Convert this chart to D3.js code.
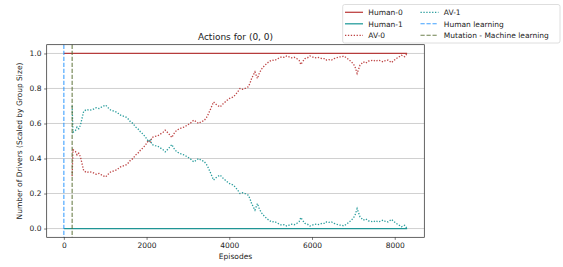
<!DOCTYPE html>
<html>
<head>
<meta charset="utf-8">
<script src="https://cdn.jsdelivr.net/npm/d3@7"></script>
<style>
  body { margin: 0; background: #fff; }
  text { font-family: "DejaVu Sans", sans-serif; fill: #222; }
</style>
</head>
<body>
<svg id="chart" width="563" height="267"></svg>
<script>
// human groups are flat for the whole run
const humanEpisodes = [0, 8300]
const human0 = [1, 1]
const human1 = [0, 0]

// AV groups start when mutation kicks in
const avEpisodes = [200, 220, 280, 320, 360, 400, 440, 480, 550, 620, 700, 780, 850, 920, 1010, 1070, 1130, 1210, 1290, 1350,
  1410, 1470, 1530, 1610, 1670, 1730, 1790, 1850, 1910, 1970, 2010, 2050, 2090, 2130, 2210, 2270, 2330, 2400, 2450, 2530,
  2610, 2670, 2730, 2800, 2860, 2920, 2980, 3050, 3140, 3200, 3260, 3320, 3380, 3440, 3500, 3560, 3620, 3700, 3780, 3840,
  3900, 3960, 4020, 4080, 4140, 4200, 4260, 4320, 4380, 4460, 4500, 4540, 4620, 4680, 4730, 4790, 4850, 4910, 4970, 5030,
  5090, 5150, 5210, 5270, 5330, 5390, 5450, 5510, 5570, 5630, 5690, 5730, 5780, 5830, 5890, 5950, 6010, 6070, 6130, 6190,
  6250, 6310, 6350, 6410, 6470, 6530, 6590, 6650, 6710, 6770, 6830, 6890, 6950, 7000, 7040, 7090, 7160, 7240, 7300, 7360,
  7420, 7480, 7540, 7600, 7660, 7720, 7780, 7840, 7920, 7980, 8040, 8100, 8160, 8240, 8300]

const av0 = [0.30, 0.45, 0.44, 0.42, 0.43, 0.41, 0.37, 0.33, 0.32, 0.325, 0.32, 0.31, 0.315, 0.305, 0.295, 0.31, 0.323, 0.33, 0.337, 0.35,
  0.356, 0.36, 0.367, 0.39, 0.40, 0.419, 0.43, 0.447, 0.46, 0.476, 0.49, 0.505, 0.49, 0.52, 0.527, 0.53, 0.539, 0.55, 0.562, 0.543,
  0.52, 0.545, 0.562, 0.57, 0.577, 0.58, 0.59, 0.60, 0.619, 0.61, 0.60, 0.61, 0.615, 0.63, 0.657, 0.69, 0.723, 0.705, 0.695, 0.71,
  0.723, 0.735, 0.745, 0.75, 0.762, 0.78, 0.80, 0.795, 0.80, 0.81, 0.83, 0.857, 0.895, 0.857, 0.89, 0.914, 0.93, 0.943, 0.955, 0.962,
  0.96, 0.967, 0.975, 0.981, 0.978, 0.986, 0.98, 0.975, 0.978, 0.971, 0.96, 0.937, 0.955, 0.971, 0.975, 0.986, 0.98, 0.975, 0.978, 0.975,
  0.97, 0.971, 0.962, 0.965, 0.962, 0.97, 0.975, 0.98, 0.981, 0.985, 0.975, 0.965, 0.952, 0.94, 0.924, 0.886, 0.933, 0.952, 0.945, 0.956,
  0.958, 0.962, 0.955, 0.962, 0.958, 0.952, 0.96, 0.962, 0.948, 0.96, 0.971, 0.98, 0.99, 0.981, 1.0]

const av1 = [0.70, 0.55, 0.56, 0.58, 0.57, 0.59, 0.63, 0.67, 0.68, 0.675, 0.68, 0.69, 0.685, 0.695, 0.705, 0.69, 0.677, 0.67, 0.663, 0.65,
  0.644, 0.64, 0.633, 0.61, 0.60, 0.581, 0.57, 0.553, 0.54, 0.524, 0.51, 0.495, 0.51, 0.48, 0.473, 0.47, 0.461, 0.45, 0.438, 0.457,
  0.48, 0.455, 0.438, 0.43, 0.423, 0.42, 0.41, 0.40, 0.381, 0.39, 0.40, 0.39, 0.385, 0.37, 0.343, 0.31, 0.277, 0.295, 0.305, 0.29,
  0.277, 0.265, 0.255, 0.25, 0.238, 0.22, 0.20, 0.205, 0.20, 0.19, 0.17, 0.143, 0.105, 0.143, 0.11, 0.086, 0.07, 0.057, 0.045, 0.038,
  0.04, 0.033, 0.025, 0.019, 0.022, 0.014, 0.02, 0.025, 0.022, 0.029, 0.04, 0.063, 0.045, 0.029, 0.025, 0.014, 0.02, 0.025, 0.022, 0.025,
  0.03, 0.029, 0.038, 0.035, 0.038, 0.03, 0.025, 0.02, 0.019, 0.015, 0.025, 0.035, 0.048, 0.06, 0.076, 0.114, 0.067, 0.048, 0.055, 0.044,
  0.042, 0.038, 0.045, 0.038, 0.042, 0.048, 0.04, 0.038, 0.052, 0.04, 0.029, 0.02, 0.01, 0.019, 0.0]

const humanLearningAt = 0
const mutationAt = 200

const xTicks = [0, 2000, 4000, 6000, 8000]
const yTicks = [0, 0.2, 0.4, 0.6, 0.8, 1.0]

const RED = "#b22222"
const TEAL = "#008b8b"
const BLUE = "#1e90ff"
const OLIVE = "#556b2f"

const series = [
  { name: "Human-0", xs: humanEpisodes, ys: human0, color: RED, dash: null, width: 1.3 },
  { name: "Human-1", xs: humanEpisodes, ys: human1, color: TEAL, dash: null, width: 1.3 },
  { name: "AV-0", xs: avEpisodes, ys: av0, color: RED, dash: "1.3,1.6", width: 1.3 },
  { name: "AV-1", xs: avEpisodes, ys: av1, color: TEAL, dash: "1.3,1.6", width: 1.3 },
]
const vlines = [
  { name: "Human learning", at: humanLearningAt, color: BLUE },
  { name: "Mutation - Machine learning", at: mutationAt, color: OLIVE },
]

const margin = { left: 46.7, top: 44.7, right: 138.7, bottom: 29.7 }
const W = 563, H = 267
const w = W - margin.left - margin.right
const h = H - margin.top - margin.bottom

const x = d3.scaleLinear().domain([-415, 8715]).range([0, w])
const y = d3.scaleLinear().domain([-0.05, 1.05]).range([h, 0])

const svg = d3.select("#chart")
const g = svg.append("g").attr("transform", `translate(${margin.left},${margin.top})`)

// grid
g.append("g").selectAll("line").data(yTicks).join("line")
  .attr("x1", 0).attr("x2", w)
  .attr("y1", d => y(d)).attr("y2", d => y(d))
  .attr("stroke", "#c4c4c4").attr("stroke-width", 0.8)

const line = d3.line()
series.forEach(s => {
  g.append("path")
    .attr("d", line(s.xs.map((e, i) => [x(e), y(s.ys[i])])))
    .attr("fill", "none")
    .attr("stroke", s.color)
    .attr("stroke-opacity", 0.85)
    .attr("stroke-width", s.width)
    .attr("stroke-dasharray", s.dash)
})

vlines.forEach(v => {
  g.append("line")
    .attr("x1", x(v.at)).attr("x2", x(v.at))
    .attr("y1", 0).attr("y2", h)
    .attr("stroke", v.color).attr("stroke-opacity", 0.85)
    .attr("stroke-width", 1.1)
    .attr("stroke-dasharray", "4.2,1.8")
})

// axes
const xAxis = g.append("g").attr("transform", `translate(0,${h})`)
  .call(d3.axisBottom(x).tickValues(xTicks).tickFormat(d3.format("d")).tickSize(2.6).tickPadding(2.6))
const yAxis = g.append("g")
  .call(d3.axisLeft(y).tickValues(yTicks).tickFormat(d3.format(".1f")).tickSize(2.6).tickPadding(2.6))
;[xAxis, yAxis].forEach(a => {
  a.select(".domain").remove()
  a.selectAll("line").attr("stroke", "#222").attr("stroke-width", 0.6)
  a.selectAll("text").attr("font-size", 7.5).attr("font-family", "DejaVu Sans").attr("fill", "#222")
})

g.append("rect").attr("width", w).attr("height", h)
  .attr("fill", "none").attr("stroke", "#222").attr("stroke-width", 0.7)

g.append("text").attr("x", w / 2).attr("y", -4.6)
  .attr("text-anchor", "middle").attr("font-size", 9)
  .text("Actions for (0, 0)")

g.append("text").attr("x", w / 2).attr("y", h + 22)
  .attr("text-anchor", "middle").attr("font-size", 7.5)
  .text("Episodes")

g.append("text")
  .attr("transform", `translate(${-25},${h / 2}) rotate(-90)`)
  .attr("text-anchor", "middle").attr("font-size", 7.5)
  .text("Number of Drivers (Scaled by Group Size)")

// legend, two columns outside the axes
const legendItems = [
  { name: "Human-0", color: RED, dash: null, width: 1.3 },
  { name: "Human-1", color: TEAL, dash: null, width: 1.3 },
  { name: "AV-0", color: RED, dash: "1.3,1.6", width: 1.3 },
  { name: "AV-1", color: TEAL, dash: "1.3,1.6", width: 1.3 },
  { name: "Human learning", color: BLUE, dash: "4.2,1.8", width: 1.1 },
  { name: "Mutation - Machine learning", color: OLIVE, dash: "4.2,1.8", width: 1.1 },
]
const legend = svg.append("g")
legend.append("rect")
  .attr("x", 342.7).attr("y", 4.5).attr("width", 217.3).attr("height", 38.5)
  .attr("rx", 2).attr("fill", "#fff").attr("fill-opacity", 0.8)
  .attr("stroke", "#d6d6d6").attr("stroke-width", 0.8)
const colX = [345, 420.5]
const rowY = [12.3, 23.8, 35.3]
legendItems.forEach((d, i) => {
  const cx = colX[Math.floor(i / 3)], cy = rowY[i % 3]
  legend.append("line")
    .attr("x1", cx).attr("x2", cx + 18).attr("y1", cy).attr("y2", cy)
    .attr("stroke", d.color).attr("stroke-opacity", 0.85)
    .attr("stroke-width", d.width).attr("stroke-dasharray", d.dash)
  legend.append("text").attr("x", cx + 23.3).attr("y", cy + 2.7)
    .attr("font-size", 7.5).text(d.name)
})
</script>
</body>
</html>
